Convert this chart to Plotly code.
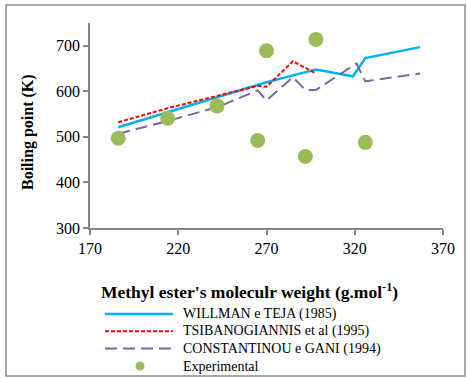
import plotly.graph_objects as go

# Data
exp_mw = [186, 214, 242, 265, 270, 292, 298, 326]
exp_bp = [497, 541, 568, 492, 689, 457, 714, 488]

will_mw = [186, 214, 242, 265, 270, 285, 298, 319, 326, 357]
will_bp = [521, 554, 587, 614, 620, 635, 648, 633, 673, 697]

tsib_mw = [186, 214, 242, 265, 270, 285, 298]
tsib_bp = [532, 563, 590, 612, 610, 666, 639]

cons_mw = [186, 214, 242, 265, 270, 285, 292, 298, 321, 326, 357]
cons_bp = [507, 535, 565, 602, 580, 631, 603, 603, 661, 622, 639]

x_ticks = [170, 220, 270, 320, 370]
y_ticks = [300, 400, 500, 600, 700]

series_names = ["WILLMAN e TEJA (1985)", "TSIBANOGIANNIS et al (1995)",
                "CONSTANTINOU e GANI (1994)", "Experimental"]
x_title = "<b>Methyl ester's moleculr weight (g.mol<sup>-1</sup>)</b>"
y_title = "<b>Boiling point (K)</b>"

SERIF = "Liberation Serif"
BLUE, RED, PURPLE, GREEN = "#00B0F0", "#FF0000", "#8064A2", "#9BBB59"
line_styles = [dict(color=BLUE, width=2.5),
               dict(color=RED, width=2, dash="4px,2px"),
               dict(color=PURPLE, width=2, dash="12px,6px")]

fig = go.Figure()
fig.add_trace(go.Scatter(x=will_mw, y=will_bp, mode="lines", name=series_names[0],
                         line=line_styles[0], showlegend=False))
fig.add_trace(go.Scatter(x=tsib_mw, y=tsib_bp, mode="lines", name=series_names[1],
                         line=line_styles[1], showlegend=False))
fig.add_trace(go.Scatter(x=cons_mw, y=cons_bp, mode="lines", name=series_names[2],
                         line=line_styles[2], showlegend=False))
fig.add_trace(go.Scatter(x=exp_mw, y=exp_bp, mode="markers", name=series_names[3],
                         marker=dict(color=GREEN, size=15), showlegend=False))

L, R, T, B = 90, 24, 23, 150
W, H = 467, 378
pw, ph = W - L - R, H - T - B

def px(xp):
    return (xp - L) / pw

def py(yp):
    return (H - B - yp) / ph

shapes = [dict(type="rect", xref="paper", yref="paper",
               x0=px(6), x1=px(465), y0=py(376), y1=py(5),
               line=dict(color="#8C8C8C", width=1.5), fillcolor="rgba(0,0,0,0)", layer="below")]
annotations = [
    dict(xref="paper", yref="paper", x=px(249.5), y=py(291), xanchor="center", yanchor="middle",
         text=x_title, showarrow=False, font=dict(family=SERIF, size=17.5, color="#000000")),
    dict(xref="paper", yref="paper", x=px(28), y=py(132), xanchor="center", yanchor="middle",
         textangle=-90, text=y_title, showarrow=False,
         font=dict(family=SERIF, size=16, color="#000000")),
]

# Legend below the axis title (drawn by hand to match the long line samples)
row_y = [314, 331.3, 348.6, 366]
for i, name in enumerate(series_names):
    yy = row_y[i]
    if i < 3:
        shapes.append(dict(type="line", xref="paper", yref="paper",
                           x0=px(105), x1=px(173), y0=py(yy), y1=py(yy), line=line_styles[i]))
    else:
        shapes.append(dict(type="circle", xref="paper", yref="paper",
                           x0=px(135.5), x1=px(144.5), y0=py(yy + 4.5), y1=py(yy - 4.5),
                           line=dict(width=0), fillcolor=GREEN))
    annotations.append(dict(xref="paper", yref="paper", x=px(181), y=py(yy),
                            xanchor="left", yanchor="middle", text=name, showarrow=False,
                            font=dict(family=SERIF, size=14, color="#000000")))

fig.update_layout(
    width=W, height=H,
    margin=dict(l=L, r=R, t=T, b=B, pad=0, autoexpand=False),
    paper_bgcolor="white", plot_bgcolor="white",
    font=dict(family=SERIF, size=16, color="#000000"),
    showlegend=False,
    xaxis=dict(range=[170, 370], tickvals=x_ticks, ticktext=[str(v) for v in x_ticks],
               automargin=False,
               showgrid=False, zeroline=False, showline=True, linecolor="#868686", linewidth=1.5,
               ticks="outside", ticklen=5, tickcolor="#868686", tickwidth=1.5,
               tickfont=dict(family=SERIF, size=16)),
    yaxis=dict(range=[300, 750], tickvals=y_ticks, ticktext=[str(v) for v in y_ticks],
               automargin=False,
               showgrid=False, zeroline=False, showline=True, linecolor="#868686", linewidth=1.5,
               ticks="outside", ticklen=5, tickcolor="#868686", tickwidth=1.5,
               tickfont=dict(family=SERIF, size=16)),
    shapes=shapes,
    annotations=annotations,
)

fig.write_html("out.html")
